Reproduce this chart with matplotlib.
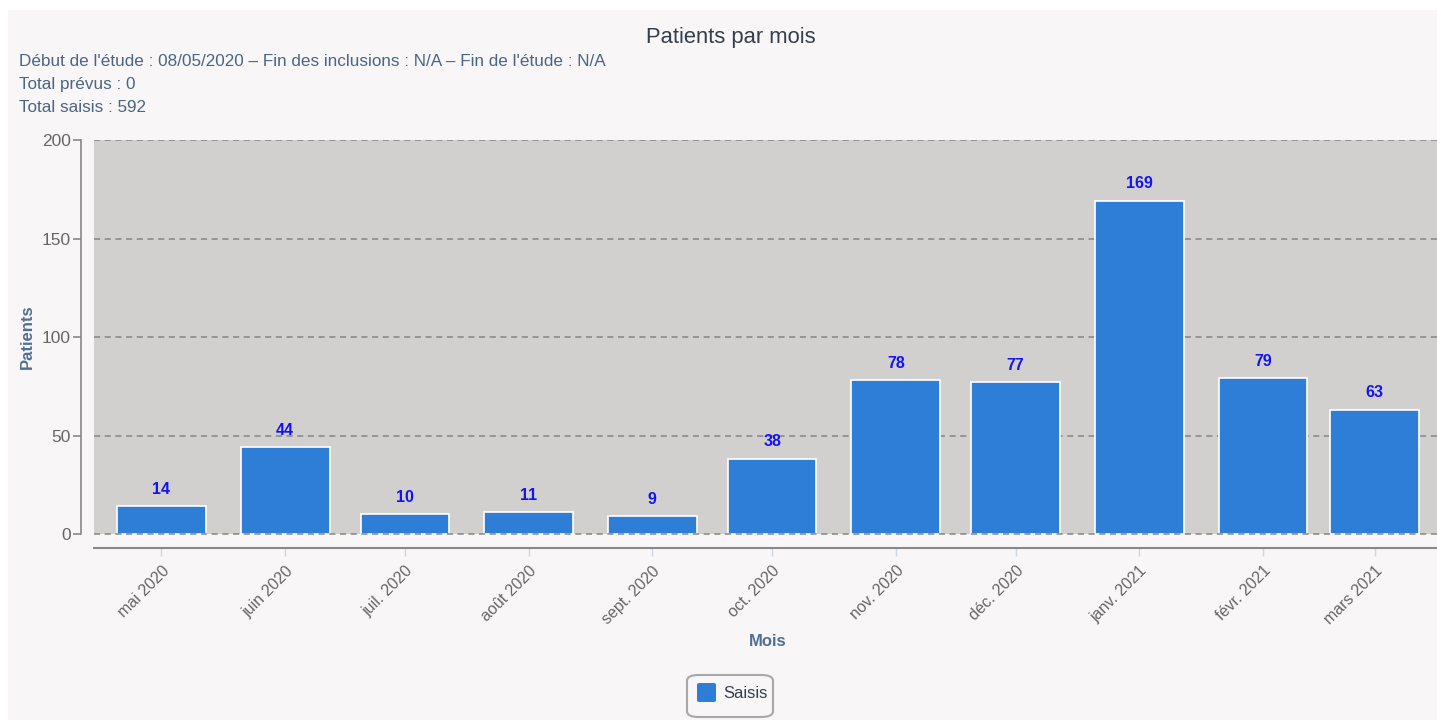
import matplotlib
matplotlib.use("Agg")
import matplotlib.pyplot as plt
import matplotlib.dates as mdates
from matplotlib.patches import FancyBboxPatch, Rectangle
import datetime as dt

# Data
months = ["2020-05-01", "2020-06-01", "2020-07-01", "2020-08-01", "2020-09-01",
          "2020-10-01", "2020-11-01", "2020-12-01", "2021-01-01", "2021-02-01", "2021-03-01"]
month_labels = ["mai 2020", "juin 2020", "juil. 2020", "août 2020", "sept. 2020",
                "oct. 2020", "nov. 2020", "déc. 2020", "janv. 2021", "févr. 2021", "mars 2021"]
saisis = [14, 44, 10, 11, 9, 38, 78, 77, 169, 79, 63]
yticks = [0, 50, 100, 150, 200]

title = "Patients par mois"
subtitle_lines = ["Début de l'étude : 08/05/2020 – Fin des inclusions : N/A – Fin de l'étude : N/A",
                  "Total prévus : 0",
                  "Total saisis : 592"]

FONT = ['Liberation Sans', 'DejaVu Sans']
plt.rcParams['font.family'] = FONT

W, H = 1437, 720
fig = plt.figure(figsize=(W / 100, H / 100), dpi=100, facecolor='white')
# panel background
fig.patches.append(Rectangle((8 / W, 0), 1 - 8 / W, 1 - 10 / H, transform=fig.transFigure,
                             facecolor='#f8f6f7', edgecolor='none', zorder=-5))

left, right, top, bottom = 94, 1437, 140, 548
ax = fig.add_axes([left / W, 1 - bottom / H, (right - left) / W, (bottom - top) / H])
ax.set_facecolor('none')
ax.set_zorder(2)

dates = [dt.datetime.strptime(m, "%Y-%m-%d") for m in months]
xnum = mdates.date2num(dates)

ax.axhspan(0, 200, color='#d1d0cf', zorder=0, lw=0)
for yv in yticks:
    ax.axhline(yv, color='#858585', lw=1.1, ls=(0, (4, 3)), zorder=1 if yv else 3)

bars = ax.bar(xnum, saisis, width=22.25, color='#2e7ed7', edgecolor='white', linewidth=1.2, zorder=2)
for x, v in zip(xnum, saisis):
    ax.annotate(str(v), (x, v), xytext=(0, 7), textcoords='offset points',
                ha='center', va='bottom', fontsize=11.5, fontweight='bold', color='#1414f0', zorder=3)

ax.set_ylim(-7.1, 200)
ax.set_xlim(xnum[0] - 16.9, xnum[-1] + 15.6)

ax.set_yticks(yticks)
ax.set_yticklabels([str(y) for y in yticks])
ax.set_xticks(xnum)
ax.set_xticklabels(month_labels, rotation=45, ha='right', rotation_mode='anchor')
ax.tick_params(axis='y', length=5.8, width=1.2, color='#888888', pad=1.5, labelsize=12.5, labelcolor='#666666')
ax.tick_params(axis='x', length=6, width=1, color='#c8d6e6', pad=5, labelsize=11.5, labelcolor='#666666')

for s in ['top', 'right']:
    ax.spines[s].set_visible(False)
ax.spines['left'].set_position(('outward', 9.4))
ax.spines['left'].set_bounds(0, 200)
ax.spines['left'].set_color('#888888')
ax.spines['left'].set_linewidth(1.2)
ax.spines['bottom'].set_color('#888888')
ax.spines['bottom'].set_linewidth(1.5)

fig.text(731 / W, 1 - 37 / H, title, ha='center', va='center', fontsize=15.8, color='#333e4c')
for i, line in enumerate(subtitle_lines):
    fig.text(19 / W, 1 - (61 + 23.5 * i) / H, line, ha='left', va='center', fontsize=12.3, color='#4b6584')

fig.text(27 / W, 1 - 337 / H, "Patients", rotation=90, ha='center', va='center',
         fontsize=12, fontweight='bold', color='#4e6f96')
fig.text(768 / W, 1 - 641 / H, "Mois", ha='center', va='center',
         fontsize=12, fontweight='bold', color='#4e6f96')

# legend box
fig.patches.append(FancyBboxPatch((687 / W, 1 - 717 / H), 86 / W, 42 / H,
                                  boxstyle="round,pad=0,rounding_size=0.008",
                                  transform=fig.transFigure, facecolor='#f8f6f7',
                                  edgecolor='#a8a8a8', lw=1.5, zorder=3))
fig.patches.append(FancyBboxPatch((697 / W, 1 - 702 / H), 19 / W, 19 / H,
                                  boxstyle="round,pad=0,rounding_size=0.002",
                                  transform=fig.transFigure, facecolor='#2e7ed7',
                                  edgecolor='none', zorder=4))
fig.text(723 / W, 1 - 694 / H, "Saisis", ha='left', va='center', fontsize=12, color='#333e4c', zorder=5)

fig.savefig("out.png", dpi=100, facecolor=fig.get_facecolor())
